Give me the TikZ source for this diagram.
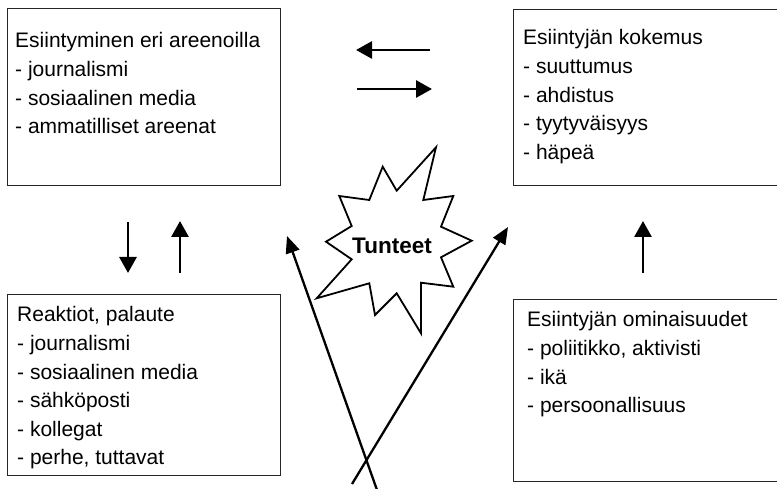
\documentclass[tikz,border=0pt]{standalone}
\usepackage{fontspec}
\setmainfont{Liberation Sans}
\usetikzlibrary{positioning,arrows.meta}
\tikzset{
  box/.style={draw=black!85, line width=1.2pt, anchor=north west, inner sep=0pt},
  boxtext/.style={anchor=north west, align=left, inner sep=0pt, font=\fontsize{21}{28.6}\selectfont},
  arr/.style={line width=2.8pt, -{Triangle[length=16pt,width=17pt]}},
  longarr/.style={line width=2.3pt, -{Triangle[length=17pt,width=14pt]}},
}
\begin{document}
\begin{tikzpicture}[x=1pt,y=-1pt]
\clip (0,0) rectangle (777,489);
% the four boxes
\node[box, minimum width=273pt, minimum height=177pt] (arenas) at (7,8) {};
\node[box, minimum width=280pt, minimum height=176pt] (experience) at (513,9) {};
\node[box, minimum width=273pt, minimum height=181pt] (reactions) at (7,294) {};
\node[box, minimum width=280pt, minimum height=182pt] (traits) at (513,299) {};
\node[boxtext] (arenas text) at (15,32.5) {Esiintyminen eri areenoilla\\- journalismi\\- sosiaalinen media\\- ammatilliset areenat};
\node[boxtext] (experience text) at (523,29.5) {Esiintyjän kokemus\\- suuttumus\\- ahdistus\\- tyytyväisyys\\- häpeä};
\node[boxtext] (reactions text) at (17,306.5) {Reaktiot, palaute\\- journalismi\\- sosiaalinen media\\- sähköposti\\- kollegat\\- perhe, tuttavat};
\node[boxtext] (traits text) at (527,311.5) {Esiintyjän ominaisuudet\\- poliitikko, aktivisti\\- ikä\\- persoonallisuus};
% emotions burst
\draw[line width=1.8pt, fill=white] (382.7,166.7) -- (396.7,190.7) -- (436,147.3) -- (423.3,200) -- (453.3,196)
  -- (441,226.7) -- (471.7,240.7) -- (441,257.3) -- (453.3,286.7) -- (421,282.7) -- (421,333.3)
  -- (396.7,293.3) -- (375,315) -- (369.3,283.3) -- (316.7,298.3) -- (351.7,259.3) -- (326,241.7)
  -- (351.7,226) -- (339.3,196) -- (369.3,200) -- cycle;
\node[font=\fontsize{22.5}{24}\bfseries\selectfont] (feelings) at (392,246) {Tunteet};
% free arrow ends
\coordinate (top r) at (430,50);   \coordinate (top l) at (356,50);
\coordinate (mid l) at (357,89);   \coordinate (mid r) at (432,89);
\coordinate (down a) at (128,222); \coordinate (down b) at (128,273);
\coordinate (up a) at (180,273);   \coordinate (up b) at (180,221);
\coordinate (right a) at (643,273); \coordinate (right b) at (643,221);
\coordinate (cross a) at (377,490); \coordinate (cross a tip) at (287,236);
\coordinate (cross b) at (352,484); \coordinate (cross b tip) at (508,227);
\draw[arr] (top r) -- (top l);
\draw[arr] (mid l) -- (mid r);
\draw[arr] (down a) -- (down b);
\draw[arr] (up a) -- (up b);
\draw[arr] (right a) -- (right b);
\draw[longarr] (cross a) -- (cross a tip);
\draw[longarr] (cross b) -- (cross b tip);
\end{tikzpicture}
\end{document}
